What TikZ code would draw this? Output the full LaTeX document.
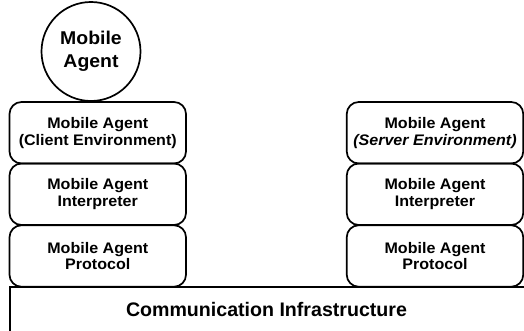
\documentclass[tikz,border=0pt]{standalone}
\usepackage{fontspec}
\setmainfont{Liberation Sans}
\newfontfamily\widesans[FakeStretch=1.05]{Liberation Sans}
\usetikzlibrary{positioning}
\tikzset{
  layer/.style={draw, line width=1.7pt, rounded corners=12pt,
    minimum width=176.5pt, minimum height=61.5pt, inner sep=0pt,
    align=center, font=\widesans\bfseries\fontsize{15.3}{16.8}\selectfont},
  agent/.style={draw, circle, line width=1.7pt, minimum size=99pt, inner sep=0pt,
    align=center, font=\widesans\bfseries\fontsize{18.5}{23}\selectfont},
  infra/.style={font=\bfseries\fontsize{19.6}{22}\selectfont, anchor=base, inner sep=0pt},
  edge/.style={line width=1.7pt}
}
\begin{document}
\begin{tikzpicture}[x=1pt,y=1pt]
  \useasboundingbox (0,0) rectangle (524,331);
  \clip (0,0) rectangle (524,331);

  % communication infrastructure slab (runs off the right and bottom edges)
  \coordinate (infraTL) at (10,44);
  \coordinate (infraTR) at (540,44);
  \coordinate (infraBL) at (10,-10);
  \draw[edge] (infraBL) -- (infraTL) -- (infraTR);
  \node[infra] (infra) at (266.5,14) {Communication Infrastructure};

  % client side stack
  \node[layer] (cproto) at (97.75,75)    {Mobile Agent\\Protocol};
  \node[layer] (cinterp) at (97.75,136.75) {Mobile Agent\\Interpreter};
  \node[layer] (cenv) at (97.75,198.25)  {Mobile Agent\\(Client Environment)};
  \node[agent] (agent) at (91,279.5) {Mobile\\Agent};

  % server side stack
  \node[layer] (sproto) at (435,75)    {Mobile Agent\\Protocol};
  \node[layer] (sinterp) at (435,136.75) {Mobile Agent\\Interpreter};
  \node[layer] (senv) at (435,198.25)  {Mobile Agent\\\textit{(Server Environment)}};
\end{tikzpicture}
\end{document}
